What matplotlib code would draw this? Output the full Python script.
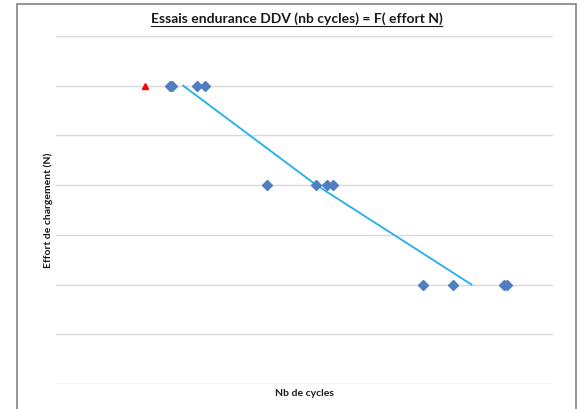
""" Endurance test chart: cycles vs load """

import matplotlib
matplotlib.use('Agg')
import matplotlib.pyplot as plt
from matplotlib.lines import Line2D
from matplotlib.patches import Rectangle

DPI = 100

# load levels (arbitrary units, no tick labels on the original)
cycles_blue = [115, 117, 142, 150, 212, 262, 273, 279, 369, 399, 451, 454]
effort_blue = [6, 6, 6, 6, 4, 4, 4, 4, 2, 2, 2, 2]
cycles_red = [90]
effort_red = [6]
trend_cycles = [128, 262, 418]
trend_effort = [6, 4, 2]
grid_levels = [0, 1, 2, 3, 4, 5, 6, 7]

W, H = 577, 409


def main():
    fig = plt.figure(figsize=(W / DPI, H / DPI), dpi=DPI)
    axes = fig.add_axes([56 / W, 25 / H, 497 / W, 348 / H])

    for lvl in grid_levels:
        axes.axhline(lvl, color='#d9d9d9', linewidth=1.0, zorder=0)

    axes.plot(trend_cycles, trend_effort, color='#1fb0ec', linewidth=1.3, zorder=2)
    axes.plot(cycles_blue, effort_blue, linestyle='none', marker='D',
              markersize=5, color='#4f7fc0', zorder=3)
    axes.plot(cycles_red, effort_red, linestyle='none', marker='^',
              markersize=4, color='#ff0000', zorder=3)

    axes.set_xlim(0, 500)
    axes.set_ylim(0, 7)
    axes.set_xticks([])
    axes.set_yticks([])
    for spine in axes.spines.values():
        spine.set_visible(False)

    # chart area frame
    fig.patches.append(Rectangle((17 / W, -0.05), 559 / W, (H - 4) / H + 0.05,
                                 transform=fig.transFigure, fill=False,
                                 edgecolor='#8c8c8c', linewidth=1.3))

    title = fig.text(296.5 / W, 1 - 19 / H,
                     'Essais endurance DDV (nb cycles) = F( effort N)',
                     ha='center', va='center', fontsize=10, fontweight='bold',
                     family='Lato', color='#1a1a1a')
    fig.text(304 / W, 1 - 393 / H, 'Nb de cycles', ha='center', va='center',
             fontsize=7.5, fontweight='bold', family='Lato', color='#1a1a1a')
    fig.text(48 / W, 1 - 210 / H, 'Effort de chargement (N)', ha='center',
             va='center', rotation=90, fontsize=7.5, fontweight='bold',
             family='Lato', color='#1a1a1a')

    # underline the title
    renderer = fig.canvas.get_renderer()
    bbox = title.get_window_extent(renderer)
    y_ul = (H - 26) / H
    fig.lines.append(Line2D([bbox.x0 / W, bbox.x1 / W], [y_ul, y_ul],
                            transform=fig.transFigure, color='#1a1a1a',
                            linewidth=0.8))

    fig.savefig('out.png', dpi=DPI)


if __name__ == '__main__':
    main()
